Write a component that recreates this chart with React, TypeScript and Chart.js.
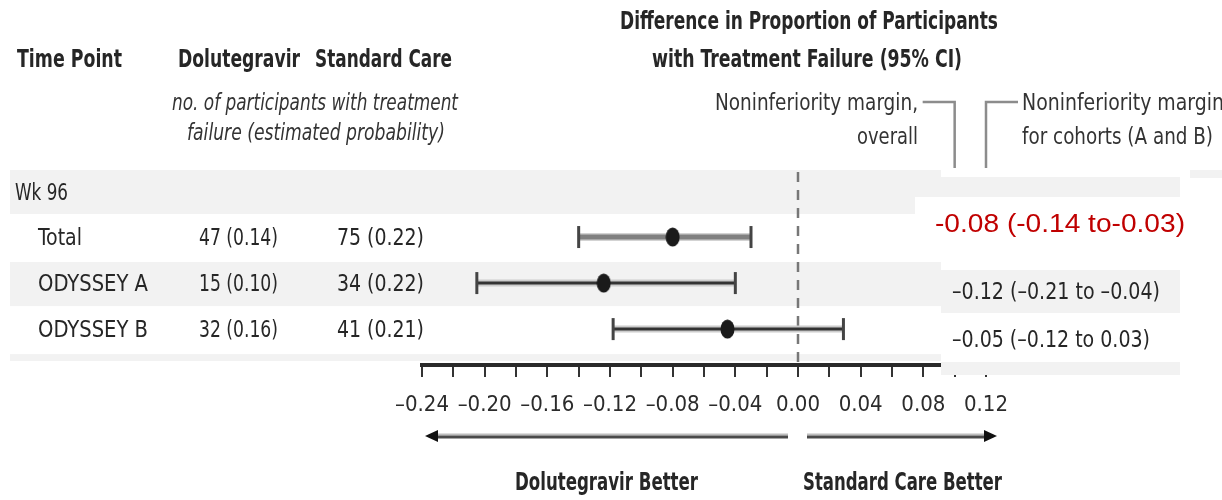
import React, { useEffect, useRef } from 'react';
import { Chart, registerables } from 'chart.js';

Chart.register(...registerables);

const FONT = "'Liberation Sans Narrow', 'DejaVu Sans Condensed', 'Arial Narrow', sans-serif";
const FONT_RED = "'Liberation Sans', Arial, sans-serif";

// ---- data ----
const sectionLabels = ['Wk 96'];
const rowLabels = ['Total', 'ODYSSEY A', 'ODYSSEY B'];
const doluFailures = [47, 15, 32];
const doluProb = [0.14, 0.1, 0.16];
const stdFailures = [75, 34, 41];
const stdProb = [0.22, 0.22, 0.21];
const diffEstimate = [-0.08, -0.124, -0.045];
const diffLower = [-0.14, -0.205, -0.118];
const diffUpper = [-0.03, -0.04, 0.029];
const diffText = ['-0.08 (-0.14 to-0.03)', '–0.12 (–0.21 to –0.04)', '–0.05 (–0.12 to 0.03)'];
const xTickValues = [-0.24, -0.22, -0.2, -0.18, -0.16, -0.14, -0.12, -0.1, -0.08, -0.06, -0.04, -0.02, 0, 0.02, 0.04, 0.06, 0.08, 0.1, 0.12];
const xLabelValues = [-0.24, -0.2, -0.16, -0.12, -0.08, -0.04, 0, 0.04, 0.08, 0.12];
const nonInferiorityMargins = [0.1, 0.12];

const fmt = (v: number) => (v < -1e-9 ? '–' : '') + Math.abs(v).toFixed(2);

type TOpt = { size?: number; weight?: string; style?: string; color?: string; w?: number; family?: string };
function txt(ctx: CanvasRenderingContext2D, s: string, x: number, y: number, o: TOpt = {}) {
  ctx.save();
  ctx.font = `${o.style || 'normal'} ${o.weight || 'normal'} ${o.size || 23}px ${o.family || FONT}`;
  ctx.fillStyle = o.color || '#262626';
  ctx.textBaseline = 'middle';
  ctx.textAlign = 'left';
  const nat = ctx.measureText(s).width;
  const k = o.w ? o.w / nat : 1;
  ctx.translate(x, y);
  ctx.scale(k, 1);
  ctx.fillText(s, 0, 0);
  ctx.restore();
}

function rect(ctx: CanvasRenderingContext2D, x: number, y: number, w: number, h: number, c: string) {
  ctx.fillStyle = c;
  ctx.fillRect(x, y, w, h);
}

function makeEllipse() {
  const c = document.createElement('canvas');
  c.width = 15;
  c.height = 20;
  const g = c.getContext('2d')!;
  g.fillStyle = '#1a1a1a';
  g.beginPath();
  g.ellipse(7.5, 10, 7, 9.5, 0, 0, Math.PI * 2);
  g.fill();
  return c;
}

const BAND = '#f2f2f2';

const forestPlugin = {
  id: 'forest',
  beforeDraw(chart: any) {
    const { ctx, scales } = chart;
    const y = scales.y;
    const area = chart.chartArea;
    rect(ctx, 0, 0, chart.width, chart.height, '#ffffff');
    for (let i = 0; i <= rowLabels.length + 1; i++) {
      if (i % 2 !== 0) continue;
      const top = Math.max(y.getPixelForValue(i - 0.5) + 2, area.top);
      const bot = Math.min(y.getPixelForValue(i + 0.5), area.bottom - 4);
      rect(ctx, 10, top, 931, bot - top, BAND);
    }
  },
  beforeDatasetsDraw(chart: any) {
    const { ctx, scales, chartArea } = chart;
    const x0 = scales.x.getPixelForValue(0);
    ctx.save();
    ctx.strokeStyle = '#777';
    ctx.lineWidth = 2.5;
    ctx.setLineDash([10, 8]);
    ctx.beginPath();
    ctx.moveTo(x0, chartArea.top + 4);
    ctx.lineTo(x0, chartArea.bottom);
    ctx.stroke();
    ctx.restore();
  },
  afterDraw(chart: any) {
    const { ctx, scales } = chart;
    const x = scales.x;
    const y = scales.y;

    // pasted right-hand panel
    rect(ctx, 941, 168, 249, 9, '#ffffff');
    rect(ctx, 1190, 170, 32, 8, BAND);
    rect(ctx, 941, 177, 239, 20, BAND);
    rect(ctx, 915, 197, 265, 64, '#ffffff');
    rect(ctx, 941, 261, 239, 9, '#ffffff');
    rect(ctx, 941, 270, 239, 43, BAND);
    rect(ctx, 941, 313, 239, 49, '#ffffff');
    rect(ctx, 941, 362, 239, 13, BAND);

    // noninferiority margin leaders
    ctx.save();
    ctx.strokeStyle = '#8c8c8c';
    ctx.lineWidth = 2.5;
    const m0 = x.getPixelForValue(nonInferiorityMargins[0]);
    const m1 = x.getPixelForValue(nonInferiorityMargins[1]);
    ctx.beginPath();
    ctx.moveTo(m0 - 32, 102);
    ctx.lineTo(m0, 102);
    ctx.lineTo(m0, 168);
    ctx.moveTo(m1 + 32, 102);
    ctx.lineTo(m1, 102);
    ctx.lineTo(m1, 168);
    ctx.stroke();
    ctx.restore();

    // headers
    txt(ctx, 'Time Point', 17, 61, { weight: 'bold', size: 24, w: 105 });
    txt(ctx, 'Dolutegravir', 178, 61, { weight: 'bold', size: 24, w: 122 });
    txt(ctx, 'Standard Care', 315, 61, { weight: 'bold', size: 24, w: 137 });
    txt(ctx, 'Difference in Proportion of Participants', 620, 23, { weight: 'bold', size: 24, w: 378 });
    txt(ctx, 'with Treatment Failure (95% CI)', 652, 61, { weight: 'bold', size: 24, w: 310 });
    txt(ctx, 'no. of participants with treatment', 172, 104, { style: 'italic', size: 23, w: 286, color: '#333' });
    txt(ctx, 'failure (estimated probability)', 187, 134, { style: 'italic', size: 23, w: 258, color: '#333' });
    txt(ctx, 'Noninferiority margin,', 715, 104, { size: 23, w: 203, color: '#333' });
    txt(ctx, 'overall', 857, 138, { size: 23, w: 61, color: '#333' });
    txt(ctx, 'Noninferiority margin', 1022, 104, { size: 23, w: 202, color: '#333' });
    txt(ctx, 'for cohorts (A and B)', 1022, 138, { size: 23, w: 191, color: '#333' });

    // rows
    txt(ctx, sectionLabels[0], 15, y.getPixelForValue(0) + 3, { size: 23, w: 53 });
    rowLabels.forEach((lab, i) => {
      const py = y.getPixelForValue(i + 1) + 2;
      txt(ctx, lab, 38, py, { size: 23, w: lab === 'Total' ? 44 : 110 });
      txt(ctx, `${doluFailures[i]} (${doluProb[i].toFixed(2)})`, 199, py, { size: 23, w: 79 });
      txt(ctx, `${stdFailures[i]} (${stdProb[i].toFixed(2)})`, 337, py, { size: 23, w: 87 });
    });
    txt(ctx, diffText[0], 935, 225, { size: 26, w: 250, color: '#c00000', family: FONT_RED });
    txt(ctx, diffText[1], 952, 293, { size: 23, w: 208 });
    txt(ctx, diffText[2], 952, 341, { size: 23, w: 198 });

    // direction arrows
    const ay = 436;
    const drawArrow = (from: number, to: number) => {
      const dir = Math.sign(to - from);
      ctx.save();
      ctx.lineWidth = 2;
      ctx.strokeStyle = '#bdbdbd';
      ctx.beginPath();
      ctx.moveTo(from, ay - 1.5);
      ctx.lineTo(to - dir * 8, ay - 1.5);
      ctx.stroke();
      ctx.lineWidth = 3;
      ctx.strokeStyle = '#4a4a4a';
      ctx.beginPath();
      ctx.moveTo(from, ay + 1);
      ctx.lineTo(to - dir * 8, ay + 1);
      ctx.stroke();
      ctx.fillStyle = '#111';
      ctx.beginPath();
      ctx.moveTo(to, ay);
      ctx.lineTo(to - dir * 13, ay - 6);
      ctx.lineTo(to - dir * 13, ay + 6);
      ctx.closePath();
      ctx.fill();
      ctx.restore();
    };
    drawArrow(x.getPixelForValue(0) - 10, x.getPixelForValue(-0.24) + 3);
    drawArrow(x.getPixelForValue(0) + 9, x.getPixelForValue(0.12) + 11);
    txt(ctx, 'Dolutegravir Better', 515, 484, { weight: 'bold', size: 24, w: 183 });
    txt(ctx, 'Standard Care Better', 803, 484, { weight: 'bold', size: 24, w: 199 });
  },
};

export default function App() {
  const ref = useRef<HTMLCanvasElement | null>(null);
  useEffect(() => {
    if (!ref.current) return;
    const ellipse = makeEllipse();
    const halo = rowLabels.map((_, i) => ({
      type: 'line' as const,
      order: 3,
      data: [
        { x: diffLower[i], y: i + 1 },
        { x: diffUpper[i], y: i + 1 },
      ],
      borderColor: i === 0 ? '#a8a8a8' : '#cccccc',
      borderWidth: 7,
      pointRadius: 0,
      fill: false,
    }));
    const ci = rowLabels.map((_, i) => ({
      type: 'line' as const,
      order: 2,
      data: [
        { x: diffLower[i], y: i + 1 },
        { x: diffUpper[i], y: i + 1 },
      ],
      borderColor: i === 0 ? '#808080' : '#333333',
      borderWidth: i === 0 ? 4 : 3,
      pointStyle: 'line',
      pointRadius: 11,
      pointRotation: 90,
      pointBorderColor: '#444444',
      pointBorderWidth: 3,
      fill: false,
    }));
    const est = {
      type: 'scatter' as const,
      order: 1,
      data: rowLabels.map((_, i) => ({ x: diffEstimate[i], y: i + 1 })),
      pointStyle: ellipse,
      pointRadius: 10,
    };
    const chart = new Chart(ref.current, {
      type: 'line',
      data: { datasets: [...halo, ...ci, est] as any },
      options: {
        responsive: false,
        animation: false,
        events: [],
        layout: { padding: { left: 422, right: 236, top: 168, bottom: 0 } },
        plugins: { legend: { display: false }, tooltip: { enabled: false } },
        scales: {
          x: {
            type: 'linear',
            min: -0.24,
            max: 0.12,
            afterBuildTicks: (s: any) => {
              s.ticks = xTickValues.map((v) => ({ value: v }));
            },
            afterFit: (s: any) => {
              s.height = 135;
            },
            ticks: {
              autoSkip: false,
              maxRotation: 0,
              padding: 15,
              color: '#2b2b2b',
              font: { family: FONT, size: 22 },
              callback: (v: any) => (xLabelValues.some((l) => Math.abs(l - Number(v)) < 1e-9) ? fmt(Number(v)) : ''),
            },
            grid: { drawOnChartArea: false, drawTicks: true, tickLength: 12, color: '#333', lineWidth: 2 },
            border: { display: true, color: '#2a2a2a', width: 4 },
          },
          y: { type: 'linear', reverse: true, min: -0.5, max: 3.78, display: false },
        },
      } as any,
      plugins: [forestPlugin],
    });
    return () => chart.destroy();
  }, []);
  return (
    <div style={{ position: 'absolute', left: 0, top: 0, width: 1222, height: 500, background: '#fff' }}>
      <canvas ref={ref} width={1222} height={500} />
    </div>
  );
}
